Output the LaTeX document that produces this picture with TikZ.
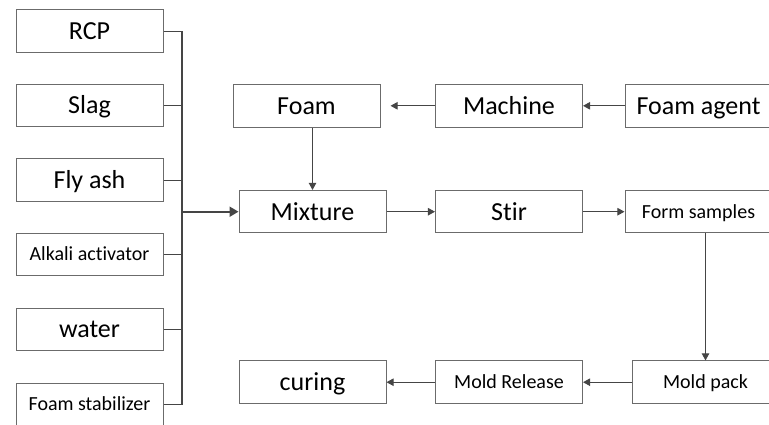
\documentclass[tikz,border=0pt]{standalone}
\usepackage{fontspec}
\setmainfont[Ligatures=NoCommon]{Carlito}
\usepackage{tikz}
\usetikzlibrary{arrows.meta}

\definecolor{linegray}{gray}{0.27}
\definecolor{boxgray}{gray}{0.42}

\tikzset{
    box/.style={draw=boxgray,line width=0.5pt,minimum width=73.5pt,minimum height=21.25pt,inner sep=0pt,text=black,text height=8.4pt,text depth=0pt,font=\fontsize{13}{15}\selectfont},
    smallbox/.style={box,text height=6.45pt,font=\fontsize{10}{12}\selectfont},
    link/.style={draw=linegray,line width=0.5pt,-{Triangle[length=3.6pt,width=3.8pt]}},
    busline/.style={draw=linegray,line width=1pt}
}

\begin{document}
\begin{tikzpicture}[x=0.5pt,y=-0.5pt]

    % Ukuran gambar dan potongan tepi
    \useasboundingbox (0,0) rectangle (769,424);
    \clip (0,0) rectangle (769,424);

    % Kolom bahan di kiri
    \node[box] (rcp) at (89.5,31) {RCP};
    \node[box] (slag) at (89.5,105.5) {Slag};
    \node[box] (flyash) at (89.5,180) {Fly ash};
    \node[smallbox] (alkali) at (89.5,254.5) {Alkali activator};
    \node[box] (water) at (89.5,329.5) {water};
    \node[smallbox] (stabilizer) at (89.5,404.5) {Foam stabilizer};

    % Baris atas: pembuatan busa
    \node[box] (foam) at (306.5,105.8) {Foam};
    \node[box] (machine) at (509,105.8) {Machine};
    \node[box] (agent) at (698.5,105.8) {Foam agent};

    % Baris tengah
    \node[box] (mixture) at (312.5,211.7) {Mixture};
    \node[box] (stir) at (509,211.7) {Stir};
    \node[smallbox] (samples) at (698.5,211.7) {Form samples};

    % Baris bawah
    \node[box] (curing) at (312.5,382.2) {curing};
    \node[smallbox] (release) at (509,382.2) {Mold Release};
    \node[smallbox] (pack) at (705.5,382.2) {Mold pack};

    % Garis pengumpul bahan
    \coordinate (bus) at (182,211.7);
    \foreach \n in {rcp,slag,flyash,alkali,water,stabilizer}
        \draw[draw=linegray,line width=0.5pt] (\n.east) -- (\n.east -| bus);
    \draw[busline] (rcp.east -| bus) -- (stabilizer.east -| bus);
    \draw[busline,-{Triangle[length=4.5pt,width=5pt]}] (bus) -- (mixture.west);

    % Panah antar tahap
    \draw[link,shorten >=5pt] (machine) -- (foam);
    \draw[link] (agent) -- (machine);
    \draw[link] (foam.south -| mixture) -- (mixture.north);
    \draw[link] (mixture) -- (stir);
    \draw[link] (stir) -- (samples);
    \draw[link] (samples.south -| pack) -- (pack.north);
    \draw[link] (pack) -- (release);
    \draw[link] (release) -- (curing);

\end{tikzpicture}
\end{document}
